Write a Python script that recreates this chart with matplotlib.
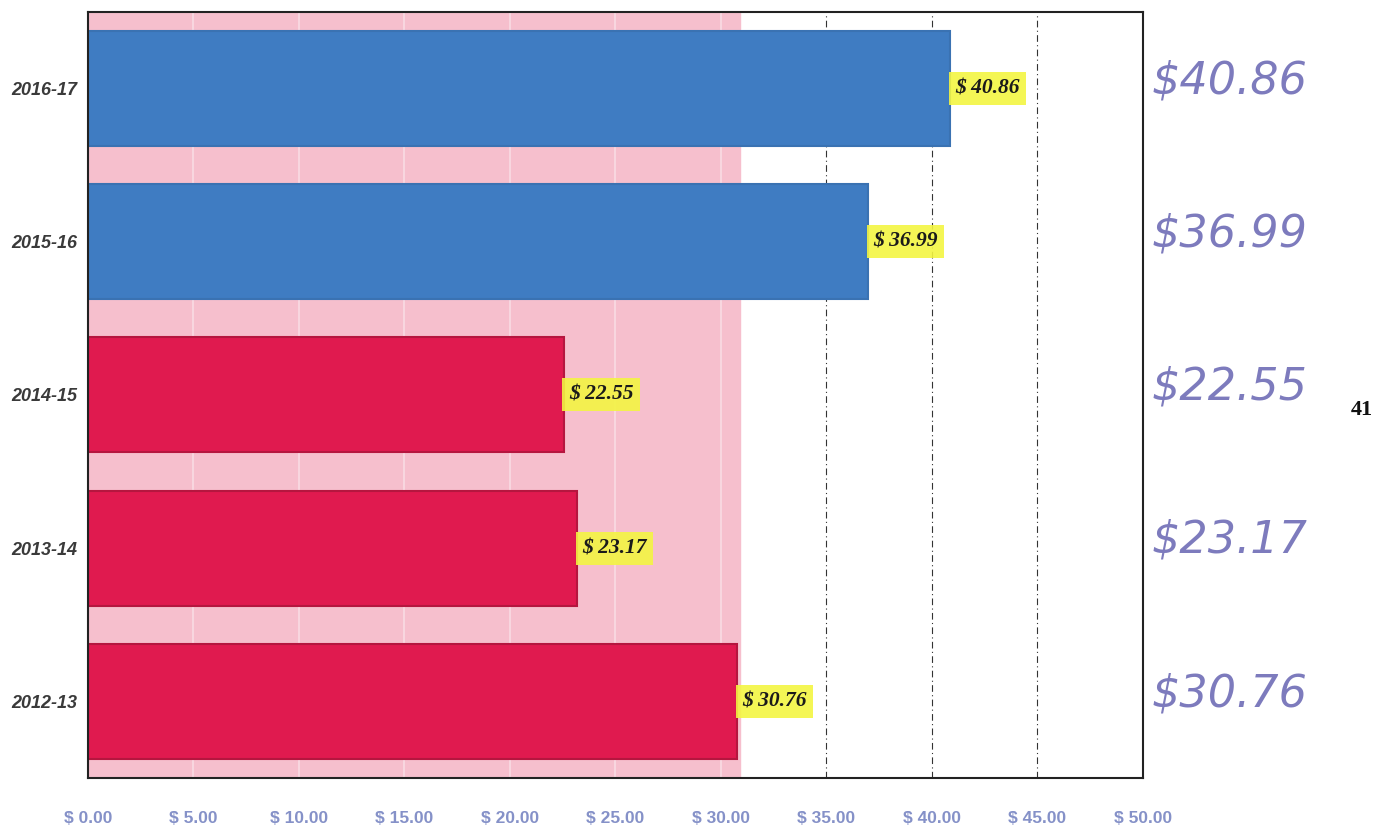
import matplotlib.pyplot as plt

# данные
years = ["2012-13", "2013-14", "2014-15", "2015-16", "2016-17"]
values = [30.76, 23.17, 22.55, 36.99, 40.86]
bar_colors = ["#e01a4f", "#e01a4f", "#e01a4f", "#3f7cc2", "#3f7cc2"]
edge_colors = ["#b5163f", "#b5163f", "#b5163f", "#3a72b2", "#3a72b2"]
handwritten = ["$30.76", "$23.17", "$22.55", "$36.99", "$40.86"]
xticks = [0, 5, 10, 15, 20, 25, 30, 35, 40, 45, 50]

fig = plt.figure(figsize=(13.84, 8.31), dpi=100)
ax = fig.add_axes([0.0636, 0.0638, 0.762, 0.922])

# розовый фон слева
ax.axvspan(0, 30.9, color="#f6bfcd", zorder=0)

# сетка
for x in xticks[1:7]:
    ax.axvline(x, color="#f9dbe3", lw=1.2, zorder=1)
for x in xticks[7:10]:
    ax.axvline(x, color="#333333", lw=0.8, ls=(0, (6, 3, 1, 3)), zorder=1)

ypos = list(range(len(years)))
ax.barh(ypos, values, height=0.75, color=bar_colors, edgecolor=edge_colors,
        linewidth=1.5, zorder=2)

for y, v in zip(ypos, values):
    ax.text(v + 0.25, y, "$ %.2f" % v, ha="left", va="center",
            fontsize=15.5, fontweight="bold", fontstyle="italic",
            family="Liberation Serif", color="#1a1a1a", zorder=4,
            bbox=dict(boxstyle="square,pad=0.3", fc="#f3f542", ec="none", alpha=0.9))

# рукописные подписи справа
for y, t in zip(ypos, handwritten):
    ax.text(50.4, y + 0.05, t, ha="left", va="center", fontsize=32,
            fontstyle="italic", fontweight="light", family="DejaVu Sans",
            color="#7d7bbd", clip_on=False)

fig.text(1362 / 1384, 1 - 410 / 831, "41", ha="center", va="center",
         fontsize=16, fontweight="bold", family="Liberation Serif", color="#111111")

ax.set_xlim(0, 50)
ax.set_ylim(-0.5, 4.5)
ax.set_xticks(xticks)
ax.set_xticklabels(["$ %.2f" % x for x in xticks], fontsize=12.5, fontweight="bold",
                   family="Liberation Sans", color="#8591c8")
ax.set_yticks(ypos)
ax.set_yticklabels(years, fontsize=13, fontweight="bold", fontstyle="italic",
                   family="Liberation Sans", color="#3a3a3a")
ax.tick_params(axis="y", length=0, pad=8)
ax.tick_params(axis="x", length=0, pad=24)

for s in ax.spines.values():
    s.set_linewidth(1.5)
    s.set_color("#222222")

fig.savefig("out.png")
